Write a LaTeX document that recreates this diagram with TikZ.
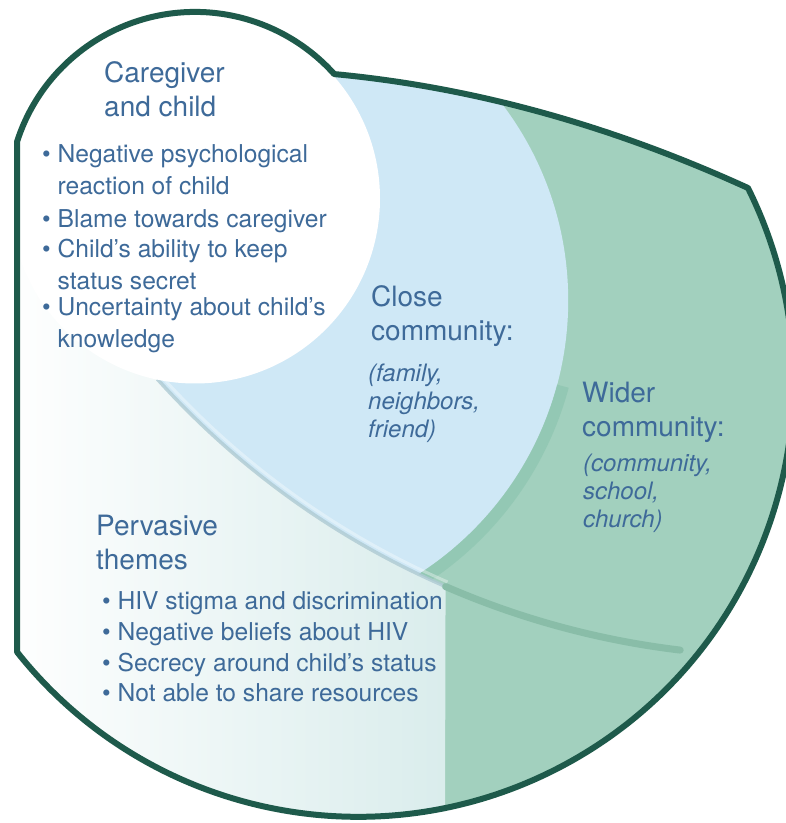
\documentclass[tikz,border=0pt]{standalone}
\usepackage{fontspec}
\setmainfont{TeX Gyre Heros}
\usetikzlibrary{positioning}
\definecolor{ink}{HTML}{3E6A99}
\definecolor{edge}{HTML}{1E5A4B}
\definecolor{widefill}{HTML}{A2D0BE}
\definecolor{closefill}{HTML}{CFE8F6}
\definecolor{themefill}{HTML}{BEDFDE}
\definecolor{rimgreen}{HTML}{8EC5B0}
\definecolor{ridgegreen}{HTML}{89BDA8}
\definecolor{seamblue}{HTML}{AECAD3}
\newcommand{\frameshape}{(17,171) -- (17,681.2)
    arc[start angle=162.2, end angle=41.9, radius=187]
    .. controls (472,736) and (610,698) .. (748,635)
    arc[start angle=26.4, end angle=-141.6, radius=435.3] -- cycle}
\tikzset{
    frame/.style =    {draw=edge,
                      line width=6pt,
                      line join=round},
    rim/.style =      {draw=rimgreen,
                      line width=12pt,
                      opacity=.7},
    ridge/.style =    {draw=ridgegreen,
                      line width=7pt,
                      line cap=round},
    seam/.style =     {draw=seamblue,
                      line width=3.5pt,
                      opacity=.8},
    heading/.style =  {anchor=base west,
                      inner sep=0pt,
                      text=ink,
                      align=left,
                      font=\fontsize{28}{34}\selectfont},
    item/.style =     {anchor=base west,
                      inner sep=0pt,
                      text=ink,
                      align=left,
                      font=\fontsize{24.6}{32}\selectfont},
    examples/.style = {anchor=base west,
                      inner sep=0pt,
                      text=ink,
                      align=left,
                      font=\fontsize{24}{28}\selectfont\itshape}}

\begin{document}
\begin{tikzpicture}[x=1pt,y=1pt]
    \useasboundingbox (0,0) rectangle (786,823);
    \begin{scope}
        \clip \frameshape;
        \fill[widefill] \frameshape;
        \fill[closefill] (243.2,522.5) circle[radius=325];
        \draw[rim] (243.2,522.5) ++(-15:331) arc[start angle=-15, end angle=-58, radius=331];
        \shade[left color=white, right color=themefill] (779.3,1004) ++(201.4:837)
            arc[start angle=201.4, end angle=246.5, radius=837] -- (445,0) -- (0,0) -- cycle;
        \draw[seam] (779.3,1004) ++(222:837) arc[start angle=222, end angle=246.5, radius=837];
        \draw[white, line width=3pt, opacity=.35] (779.3,1004) ++(222:832) arc[start angle=222, end angle=246.5, radius=832];
        \draw[ridge] (779.3,1004) ++(246.5:837) arc[start angle=246.5, end angle=263.2, radius=837];
        \fill[white] (195,624.5) circle[radius=185];
    \end{scope}
    \draw[frame] \frameshape;

    \node[heading]  (care)    at (104,706) {Caregiver\\and child};
    \node[item]     (react)   at (42,628)  {\textbullet\ Negative psychological\\\phantom{\textbullet\ }reaction of child};
    \node[item]     (blame)   at (42,595)  {\textbullet\ Blame towards caregiver};
    \node[item]     (secret)  at (42,533)  {\textbullet\ Child’s ability to keep\\\phantom{\textbullet\ }status secret};
    \node[item]     (unsure)  at (42,475)  {\textbullet\ Uncertainty about child’s\\\phantom{\textbullet\ }knowledge};

    \node[heading]  (close)   at (371,482) {Close\\community:};
    \node[examples] (closeex) at (368,385) {(family,\\neighbors,\\friend)};

    \node[heading]  (wide)    at (582,386) {Wider\\community:};
    \node[examples] (wideex)  at (583,295) {(community,\\school,\\church)};

    \node[heading]  (themes)  at (96,253)  {Pervasive\\themes};
    \node[item, font=\fontsize{24.6}{30.7}\selectfont] (list) at (102,121)
        {\textbullet\ HIV stigma and discrimination\\\textbullet\ Negative beliefs about HIV\\\textbullet\ Secrecy around child’s status\\\textbullet\ Not able to share resources};
\end{tikzpicture}
\end{document}
